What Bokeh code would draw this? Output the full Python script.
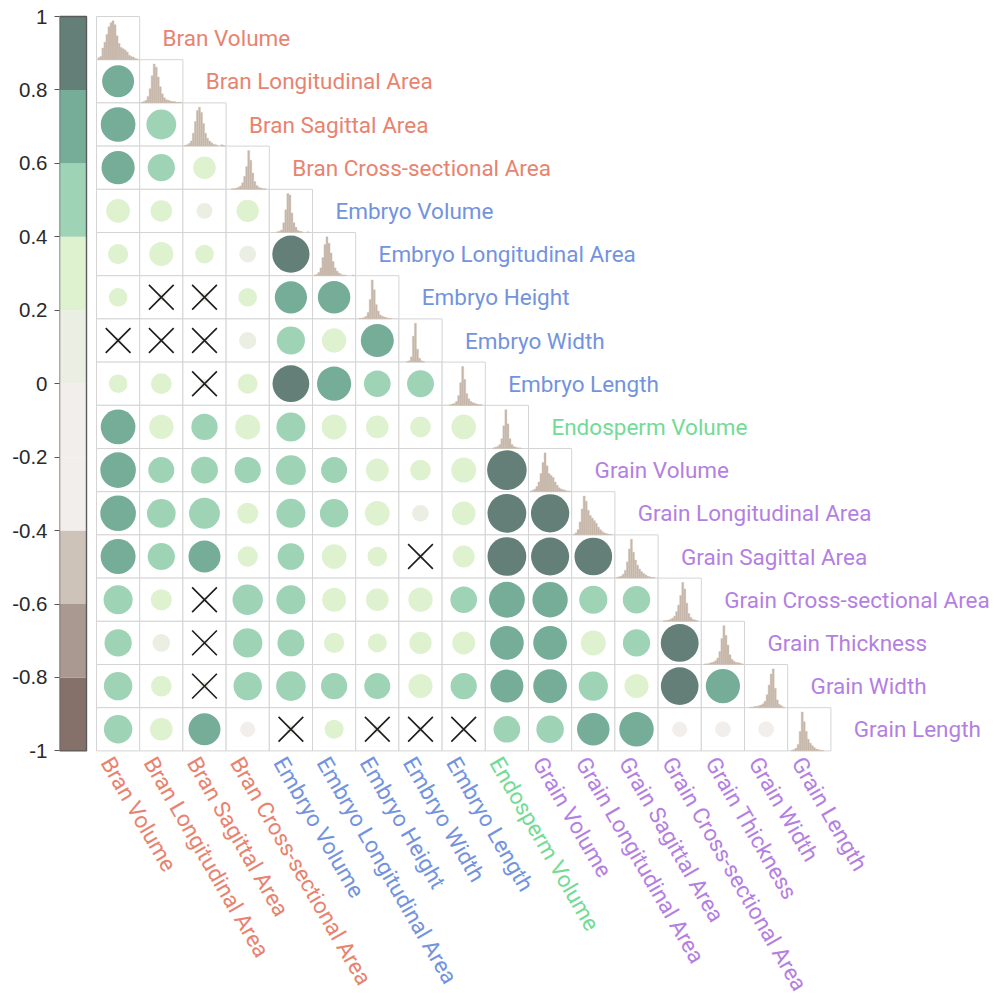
import math

from bokeh.core.properties import value
from bokeh.embed import file_html
from bokeh.models import (ColumnDataSource, CustomJSTickFormatter, FixedTicker,
                          LinearAxis, Range1d)
from bokeh.plotting import figure
from bokeh.resources import INLINE
from bokeh.transform import linear_cmap

# ---------------------------------------------------------------- data
variables = [
    "Bran Volume", "Bran Longitudinal Area", "Bran Sagittal Area",
    "Bran Cross-sectional Area", "Embryo Volume", "Embryo Longitudinal Area",
    "Embryo Height", "Embryo Width", "Embryo Length", "Endosperm Volume",
    "Grain Volume", "Grain Longitudinal Area", "Grain Sagittal Area",
    "Grain Cross-sectional Area", "Grain Thickness", "Grain Width",
    "Grain Length",
]
groups = ["Bran"] * 4 + ["Embryo"] * 5 + ["Endosperm"] + ["Grain"] * 7
group_colors = {"Bran": "#e8836f", "Embryo": "#7393de",
                "Endosperm": "#72db96", "Grain": "#b47fe2"}

# lower-triangle correlations, one list per row (columns 0 .. row-1)
r_bran_longitudinal_area = [0.62]
r_bran_sagittal_area = [0.73, 0.54]
r_bran_cross_sectional_area = [0.67, 0.45, 0.31]
r_embryo_volume = [0.34, 0.28, 0.15, 0.30]
r_embryo_longitudinal_area = [0.25, 0.35, 0.21, 0.17, 0.84]
r_embryo_height = [0.21, 0.04, 0.05, 0.21, 0.63, 0.64]
r_embryo_width = [0.03, 0.02, -0.04, 0.18, 0.48, 0.36, 0.66]
r_embryo_length = [0.21, 0.26, 0.05, 0.24, 0.82, 0.71, 0.43, 0.44]
r_endosperm_volume = [0.73, 0.36, 0.42, 0.38, 0.51, 0.38, 0.31, 0.26, 0.37]
r_grain_volume = [0.77, 0.41, 0.44, 0.42, 0.54, 0.41, 0.32, 0.26, 0.38, 0.95]
r_grain_longitudinal_area = [0.77, 0.50, 0.58, 0.27, 0.51, 0.49, 0.37, 0.17,
                             0.34, 0.91, 0.89]
r_grain_sagittal_area = [0.74, 0.45, 0.62, 0.25, 0.43, 0.37, 0.23, 0.03, 0.29,
                         0.91, 0.88, 0.86]
r_grain_cross_sectional_area = [0.51, 0.27, 0.02, 0.56, 0.51, 0.35, 0.31, 0.36,
                                0.43, 0.78, 0.76, 0.48, 0.46]
r_grain_thickness = [0.45, 0.19, -0.03, 0.52, 0.44, 0.25, 0.22, 0.30, 0.32,
                     0.69, 0.69, 0.38, 0.45, 0.87]
r_grain_width = [0.49, 0.26, 0.04, 0.49, 0.53, 0.42, 0.41, 0.35, 0.42, 0.66,
                 0.69, 0.52, 0.35, 0.86, 0.71]
r_grain_length = [0.49, 0.31, 0.62, -0.14, 0.05, 0.22, 0.04, 0.03, 0.02, 0.43,
                  0.46, 0.64, 0.72, -0.14, -0.15, -0.15]

# pairs whose correlation is not significant (row variable, column variable)
insignificant = [
    ("Embryo Height", "Bran Longitudinal Area"),
    ("Embryo Height", "Bran Sagittal Area"),
    ("Embryo Width", "Bran Volume"),
    ("Embryo Width", "Bran Longitudinal Area"),
    ("Embryo Width", "Bran Sagittal Area"),
    ("Embryo Length", "Bran Sagittal Area"),
    ("Grain Sagittal Area", "Embryo Width"),
    ("Grain Cross-sectional Area", "Bran Sagittal Area"),
    ("Grain Thickness", "Bran Sagittal Area"),
    ("Grain Width", "Bran Sagittal Area"),
    ("Grain Length", "Embryo Volume"),
    ("Grain Length", "Embryo Height"),
    ("Grain Length", "Embryo Width"),
    ("Grain Length", "Embryo Length"),
]

# histogram counts of each variable (20 equal-width bins)
hist_bran_volume = [3, 5, 18, 27, 39, 51, 57, 60, 54, 37, 25, 19, 17, 15, 12, 7, 5, 4, 2, 1]
hist_bran_longitudinal_area = [1, 2, 4, 10, 22, 42, 60, 55, 40, 25, 14, 8, 5, 4, 3, 2, 2, 1, 1, 1]
hist_bran_sagittal_area = [1, 2, 4, 8, 20, 38, 55, 60, 52, 35, 20, 12, 8, 5, 3, 2, 1, 0, 2, 1]
hist_bran_cross_sectional_area = [0, 0, 1, 1, 2, 3, 5, 10, 20, 35, 60, 45, 25, 12, 6, 3, 2, 1, 1, 0]
hist_embryo_volume = [0, 0, 0, 1, 2, 4, 15, 35, 60, 58, 30, 15, 8, 3, 2, 1, 0, 0, 1, 0]
hist_embryo_longitudinal_area = [1, 2, 5, 12, 28, 48, 60, 50, 35, 22, 12, 7, 4, 2, 1, 1, 0, 0, 0, 1]
hist_embryo_height = [0, 1, 1, 2, 4, 10, 30, 60, 45, 22, 12, 6, 4, 3, 2, 1, 1, 0, 0, 0]
hist_embryo_width = [0, 0, 0, 1, 2, 8, 40, 60, 20, 6, 2, 1, 0, 0, 0, 0, 0, 0, 0, 0]
hist_embryo_length = [0, 0, 0, 1, 2, 3, 6, 15, 35, 60, 40, 18, 10, 6, 4, 3, 2, 1, 1, 0]
hist_endosperm_volume = [0, 0, 0, 1, 2, 3, 6, 15, 35, 60, 38, 15, 6, 3, 2, 1, 1, 0, 0, 0]
hist_grain_volume = [1, 2, 4, 8, 15, 28, 45, 60, 40, 28, 25, 22, 15, 10, 6, 4, 3, 2, 1, 1]
hist_grain_longitudinal_area = [1, 3, 8, 20, 40, 60, 52, 38, 30, 26, 22, 18, 12, 8, 5, 3, 2, 1, 1, 0]
hist_grain_sagittal_area = [1, 2, 3, 6, 12, 25, 45, 60, 40, 28, 20, 14, 10, 7, 5, 3, 2, 1, 1, 0]
hist_grain_cross_sectional_area = [0, 0, 1, 1, 2, 3, 5, 8, 15, 25, 40, 60, 50, 28, 12, 6, 3, 2, 1, 0]
hist_grain_thickness = [0, 1, 1, 2, 3, 4, 6, 10, 20, 40, 60, 45, 30, 15, 8, 5, 3, 3, 2, 1]
hist_grain_width = [0, 0, 1, 1, 2, 2, 3, 4, 6, 10, 20, 35, 52, 60, 30, 12, 5, 3, 1, 0]
hist_grain_length = [0, 1, 2, 4, 10, 30, 60, 45, 30, 18, 12, 8, 5, 3, 2, 1, 1, 0, 0, 0]

# colour scale: ten steps from -1 to 1
palette = ["#85716a", "#a99991", "#cec3b9", "#f2eeeb", "#f2eeeb",
           "#ebeee3", "#def2cf", "#9fd3b6", "#76ad98", "#637f77"]
colorbar_ticks = [-1, -0.8, -0.6, -0.4, -0.2, 0, 0.2, 0.4, 0.6, 0.8, 1]

corr_rows = [
    [], r_bran_longitudinal_area, r_bran_sagittal_area,
    r_bran_cross_sectional_area, r_embryo_volume, r_embryo_longitudinal_area,
    r_embryo_height, r_embryo_width, r_embryo_length, r_endosperm_volume,
    r_grain_volume, r_grain_longitudinal_area, r_grain_sagittal_area,
    r_grain_cross_sectional_area, r_grain_thickness, r_grain_width,
    r_grain_length,
]
histograms = [
    hist_bran_volume, hist_bran_longitudinal_area, hist_bran_sagittal_area,
    hist_bran_cross_sectional_area, hist_embryo_volume,
    hist_embryo_longitudinal_area, hist_embryo_height, hist_embryo_width,
    hist_embryo_length, hist_endosperm_volume, hist_grain_volume,
    hist_grain_longitudinal_area, hist_grain_sagittal_area,
    hist_grain_cross_sectional_area, hist_grain_thickness, hist_grain_width,
    hist_grain_length,
]

# ---------------------------------------------------------------- layout
W, H = 996, 999
CELL = 43.2            # pixel size of one matrix cell
GRID_X0, GRID_Y0 = 96, 16
FRAME_LEFT = 59        # left edge of the plotting frame (colour bar edge)
n = len(variables)

x_lo = (FRAME_LEFT - GRID_X0) / CELL
x_hi = (W - GRID_X0) / CELL
y_top = -GRID_Y0 / CELL
y_bot = (H - GRID_Y0) / CELL

cb_span = n * CELL / 2.0           # pixels per unit of correlation
cb_top = 1 + GRID_Y0 / cb_span
cb_bot = 1 - (H - GRID_Y0) / cb_span

p = figure(width=W, height=H, output_backend="svg", toolbar_location=None,
           x_range=Range1d(x_lo, x_hi), y_range=Range1d(y_bot, y_top),
           x_axis_location=None, y_axis_location=None,
           min_border_left=FRAME_LEFT, min_border_right=0,
           min_border_top=0, min_border_bottom=0)
p.extra_y_ranges = {"cb": Range1d(cb_bot, cb_top)}
p.xgrid.visible = False
p.ygrid.visible = False
p.outline_line_color = None
p.background_fill_color = "white"
p.border_fill_color = "white"

cmap = linear_cmap("r", palette, -1, 1)

# ---------------------------------------------------------------- cells
cl, cr, ct, cbm = [], [], [], []
for i in range(n):
    for j in range(i + 1):
        cl.append(j)
        cr.append(j + 1)
        ct.append(i)
        cbm.append(i + 1)
p.quad(left=cl, right=cr, top=ct, bottom=cbm, fill_color="white",
       line_color="#d4d4d4", line_width=1)

# ---------------------------------------------------------------- circles
cx, cy, rv, rad = [], [], [], []
for i, row in enumerate(corr_rows):
    for j, r in enumerate(row):
        cx.append(j + 0.5)
        cy.append(i + 0.5)
        rv.append(r)
        rad.append(0.47 * math.sqrt(abs(r)))
circ_src = ColumnDataSource(dict(x=cx, y=cy, r=rv, radius=rad))
p.circle(x="x", y="y", radius="radius", source=circ_src,
         fill_color=cmap, line_color=None)

# crosses over non-significant pairs
idx = {name: k for k, name in enumerate(variables)}
xx = [idx[c] + 0.5 for _, c in insignificant]
xy = [idx[r] + 0.5 for r, _ in insignificant]
p.scatter(x=xx, y=xy, marker="x", size=35, line_color="#1c1c1c",
          line_width=1.6)

# ---------------------------------------------------------------- histograms
hl, hr, ht, hb = [], [], [], []
for i, counts in enumerate(histograms):
    nb = len(counts)
    peak = max(counts)
    for k, c in enumerate(counts):
        if c == 0:
            continue
        hl.append(i + 0.03 + 0.94 * k / nb)
        hr.append(i + 0.03 + 0.94 * (k + 1) / nb)
        hb.append(i + 1)
        ht.append(i + 1 - 0.9 * c / peak)
p.quad(left=hl, right=hr, top=ht, bottom=hb, fill_color="#c6b6a9",
       line_color="#cfc2b7", line_width=0.4)

# ---------------------------------------------------------------- labels
label_font = value("Roboto")
lab_colors = [group_colors[g] for g in groups]
p.text(x=[i + 1 + 0.53 for i in range(n)], y=[i + 0.5 for i in range(n)],
       text=variables, text_color=lab_colors, text_font=label_font,
       text_font_size="22.5px", text_align="left", text_baseline="middle")
p.text(x=[j + 0.5 for j in range(n)], y=[n + 0.03] * n, text=variables,
       angle=-math.pi / 3, text_color=lab_colors, text_font=label_font,
       text_font_size="22.5px", text_align="left", text_baseline="top")

# ---------------------------------------------------------------- colour bar
cb_left = (FRAME_LEFT - GRID_X0) / CELL
cb_right = (86 - GRID_X0) / CELL
edges = colorbar_ticks
mids = [(a + b) / 2 for a, b in zip(edges[:-1], edges[1:])]
cb_src = ColumnDataSource(dict(r=mids, bottom=edges[:-1], top=edges[1:]))
p.quad(left=cb_left, right=cb_right, bottom="bottom", top="top",
       source=cb_src, fill_color=cmap, line_color=None, y_range_name="cb")
p.quad(left=[cb_left], right=[cb_right], bottom=[-1], top=[1],
       fill_color=None, line_color="#5a5a5a", line_width=1.4,
       y_range_name="cb")

axis = LinearAxis(y_range_name="cb", ticker=FixedTicker(ticks=colorbar_ticks),
                  formatter=CustomJSTickFormatter(code="return String(tick)"))
axis.axis_line_color = None
axis.major_tick_in = 0
axis.major_tick_out = 5
axis.major_tick_line_color = "#555555"
axis.minor_tick_line_color = None
axis.major_label_text_font = "Liberation Sans"
axis.major_label_text_font_size = "20.5px"
axis.major_label_text_color = "#2a2a2a"
axis.major_label_standoff = 7
p.add_layout(axis, "left")

open("out.html", "w").write(file_html(p, INLINE))
